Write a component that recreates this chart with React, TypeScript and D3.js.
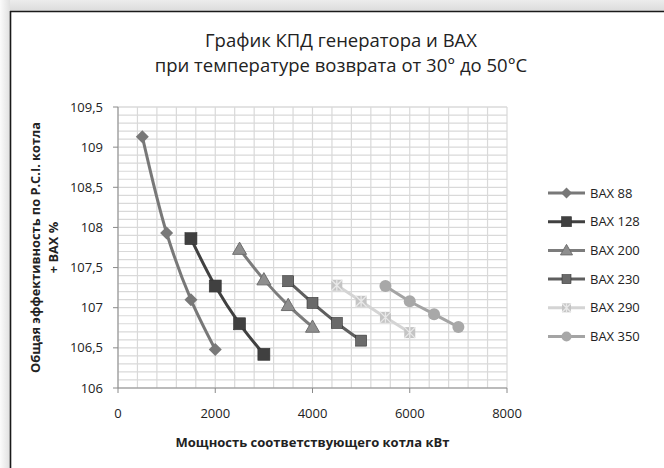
import React from "react";
import * as d3 from "d3";

// values (kW, %)
const bax88X = [500, 1000, 1500, 2000];
const bax88Y = [109.13, 107.93, 107.1, 106.48];
const bax128X = [1500, 2000, 2500, 3000];
const bax128Y = [107.86, 107.27, 106.8, 106.42];
const bax200X = [2500, 3000, 3500, 4000];
const bax200Y = [107.73, 107.35, 107.03, 106.76];
const bax230X = [3500, 4000, 4500, 5000];
const bax230Y = [107.33, 107.06, 106.81, 106.59];
const bax290X = [4500, 5000, 5500, 6000];
const bax290Y = [107.28, 107.08, 106.88, 106.69];
const bax350X = [5500, 6000, 6500, 7000];
const bax350Y = [107.27, 107.08, 106.92, 106.76];

const seriesNames = ["BAX 88", "BAX 128", "BAX 200", "BAX 230", "BAX 290", "BAX 350"];
const yTicks = [106, 106.5, 107, 107.5, 108, 108.5, 109, 109.5];
const xTicks = [0, 2000, 4000, 6000, 8000];

const titleLines = ["График КПД генератора и ВАХ", "при температуре возврата от 30° до 50°С"];
const xTitle = "Мощность соответствующего котла кВт";
const yTitleLines = ["Общая эффективность по P.C.I. котла", "+ BAX %"];

type Marker = "diamond" | "square" | "triangle" | "squareX" | "circle";

const series = [
  { name: seriesNames[0], xs: bax88X, ys: bax88Y, line: "#787878", fill: "#787878", marker: "diamond" as Marker, size: 6.5 },
  { name: seriesNames[1], xs: bax128X, ys: bax128Y, line: "#404040", fill: "#404040", marker: "square" as Marker, size: 6 },
  { name: seriesNames[2], xs: bax200X, ys: bax200Y, line: "#7c7c7c", fill: "#8e8e8e", marker: "triangle" as Marker, size: 7 },
  { name: seriesNames[3], xs: bax230X, ys: bax230Y, line: "#5e5e5e", fill: "#6a6a6a", marker: "square" as Marker, size: 5.5 },
  { name: seriesNames[4], xs: bax290X, ys: bax290Y, line: "#d4d4d4", fill: "#c4c4c4", marker: "squareX" as Marker, size: 5.5 },
  { name: seriesNames[5], xs: bax350X, ys: bax350Y, line: "#a4a4a4", fill: "#a8a8a8", marker: "circle" as Marker, size: 6 },
];

function MarkerShape({ type, x, y, r, fill }: { type: Marker; x: number; y: number; r: number; fill: string }) {
  if (type === "circle") return <circle cx={x} cy={y} r={r} fill={fill} />;
  if (type === "diamond")
    return <path d={`M${x},${y - r}L${x + r},${y}L${x},${y + r}L${x - r},${y}Z`} fill={fill} />;
  if (type === "triangle")
    return <path d={`M${x},${y - r}L${x + r},${y + r * 0.75}L${x - r},${y + r * 0.75}Z`} fill={fill} stroke="#6e6e6e" strokeWidth={1} />;
  if (type === "squareX")
    return (
      <g>
        <rect x={x - r} y={y - r} width={2 * r} height={2 * r} fill={fill} />
        <path d={`M${x - r},${y - r}L${x + r},${y + r}M${x + r},${y - r}L${x - r},${y + r}M${x},${y - r}L${x},${y + r}`} stroke="#e8e8e8" strokeWidth={1.3} />
      </g>
    );
  return <rect x={x - r} y={y - r} width={2 * r} height={2 * r} fill={fill} stroke="#333" strokeWidth={0.6} />;
}

export default function App() {
  const width = 664;
  const height = 468;
  const left = 118;
  const right = 507;
  const top = 107;
  const bottom = 388;

  const x = d3.scaleLinear().domain([0, 8000]).range([left, right]);
  const y = d3.scaleLinear().domain([106, 109.5]).range([bottom, top]);

  const vGrid = d3.range(0, 8001, 400);
  const hGrid = d3.range(0, 36).map((i) => 106 + i * 0.1).concat([109.5]);

  const line = d3
    .line<[number, number]>()
    .x((d) => x(d[0]))
    .y((d) => y(d[1]))
    .curve(d3.curveCatmullRom);

  const font = "'Open Sans', 'DejaVu Sans', sans-serif";
  const legendX = 548;
  const legendY = 193;
  const legendStep = 28.7;

  return (
    <svg
      width={width}
      height={height}
      viewBox={`0 0 ${width} ${height}`}
      style={{ position: "absolute", left: 0, top: 0, display: "block", background: "#fff" }}
    >
      <defs>
        <linearGradient id="topBand" x1="0" y1="0" x2="0" y2="1">
          <stop offset="0%" stopColor="#ececec" />
          <stop offset="100%" stopColor="#dcdcdc" />
        </linearGradient>
        <linearGradient id="leftBand" x1="0" y1="0" x2="1" y2="0">
          <stop offset="0%" stopColor="#fbfbfb" />
          <stop offset="100%" stopColor="#e0e0e0" />
        </linearGradient>
      </defs>

      {/* frame */}
      <rect x={0} y={0} width={width} height={11} fill="url(#topBand)" />
      <rect x={0} y={0} width={10} height={height} fill="url(#leftBand)" />
      <line x1={10} y1={11.5} x2={width} y2={11.5} stroke="#1a1a1a" strokeWidth={1.6} />
      <line x1={10.5} y1={11} x2={10.5} y2={height} stroke="#1a1a1a" strokeWidth={1.6} />

      {/* title */}
      {titleLines.map((t, i) => (
        <text key={t} x={341} y={47 + i * 25} textAnchor="middle" fontFamily={font} fontSize={18.5} fill="#222">
          {t}
        </text>
      ))}

      {/* grid */}
      {hGrid.map((v, i) => (
        <line key={"h" + i} x1={left} x2={right} y1={y(v)} y2={y(v)} stroke="#d9d9d9" strokeWidth={1.2} />
      ))}
      {vGrid.map((v) => (
        <line key={"v" + v} x1={x(v)} x2={x(v)} y1={top} y2={bottom} stroke="#d9d9d9" strokeWidth={1.2} />
      ))}

      {/* axes */}
      <line x1={left} x2={left} y1={top} y2={bottom} stroke="#8a8a8a" strokeWidth={1} />
      <line x1={left} x2={right} y1={bottom} y2={bottom} stroke="#8a8a8a" strokeWidth={1} />
      {yTicks.map((v) => (
        <g key={"yt" + v}>
          <line x1={left - 5} x2={left} y1={y(v)} y2={y(v)} stroke="#8a8a8a" />
          <text x={103} y={y(v)} dy="0.35em" textAnchor="end" fontFamily={font} fontSize={13} fill="#222">
            {String(v).replace(".", ",")}
          </text>
        </g>
      ))}
      {xTicks.map((v) => (
        <g key={"xt" + v}>
          <line x1={x(v)} x2={x(v)} y1={bottom} y2={bottom + 5} stroke="#8a8a8a" />
          <text x={x(v)} y={418} textAnchor="middle" fontFamily={font} fontSize={13} fill="#222">
            {v}
          </text>
        </g>
      ))}

      {/* axis titles */}
      <text x={(left + right) / 2} y={447} textAnchor="middle" fontFamily={font} fontSize={13} fontWeight="bold" fill="#222">
        {xTitle}
      </text>
      {yTitleLines.map((t, i) => (
        <text
          key={t}
          transform={`translate(${40 + i * 18},${(top + bottom) / 2}) rotate(-90)`}
          textAnchor="middle"
          fontFamily={font}
          fontSize={12.8}
          fontWeight="bold"
          fill="#222"
        >
          {t}
        </text>
      ))}

      {/* series */}
      {series.map((s) => {
        const pts = s.xs.map((v, i) => [v, s.ys[i]] as [number, number]);
        return (
          <g key={s.name}>
            <path d={line(pts) || ""} fill="none" stroke={s.line} strokeWidth={3} strokeLinejoin="round" />
            {pts.map((p, i) => (
              <MarkerShape key={i} type={s.marker} x={x(p[0])} y={y(p[1])} r={s.size} fill={s.fill} />
            ))}
          </g>
        );
      })}

      {/* legend */}
      {series.map((s, i) => {
        const ly = legendY + i * legendStep;
        return (
          <g key={"lg" + s.name}>
            <line x1={legendX} x2={legendX + 37} y1={ly} y2={ly} stroke={s.line} strokeWidth={3} />
            <MarkerShape type={s.marker} x={legendX + 18.5} y={ly} r={s.size - 1} fill={s.fill} />
            <text x={legendX + 42} y={ly} dy="0.35em" fontFamily={font} fontSize={13} fill="#222">
              {s.name}
            </text>
          </g>
        );
      })}
    </svg>
  );
}
